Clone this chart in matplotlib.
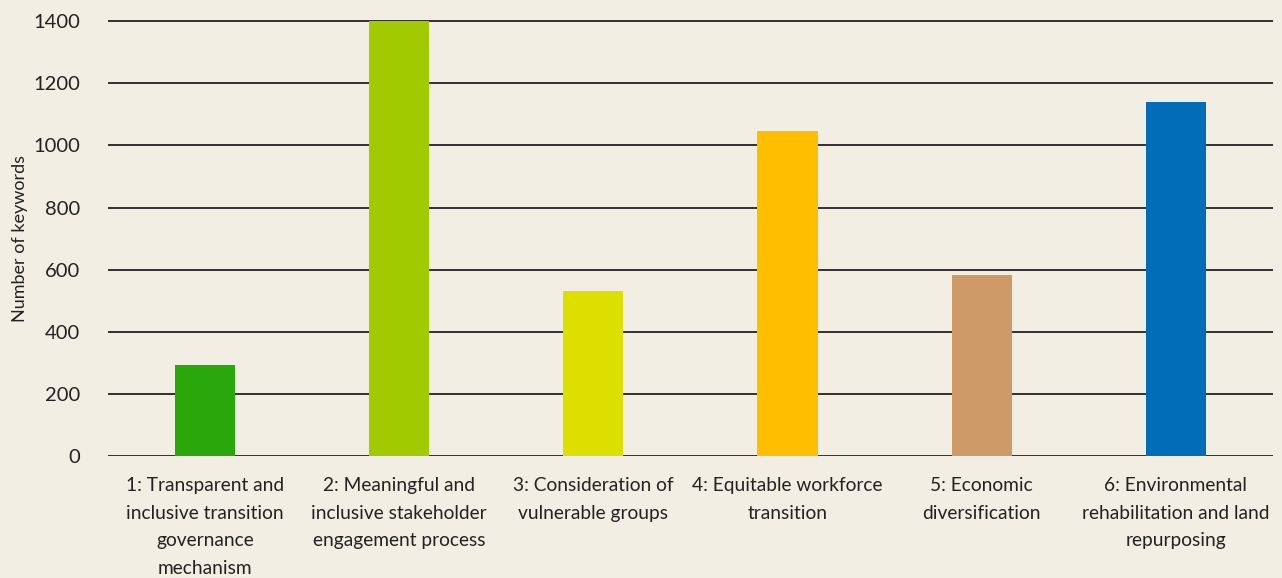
import matplotlib.pyplot as plt

categories = [
    "1: Transparent and\ninclusive transition\ngovernance\nmechanism",
    "2: Meaningful and\ninclusive stakeholder\nengagement process",
    "3: Consideration of\nvulnerable groups",
    "4: Equitable workforce\ntransition",
    "5: Economic\ndiversification",
    "6: Environmental\nrehabilitation and land\nrepurposing",
]
values = [294, 1402, 530, 1047, 583, 1140]
colors = ["#2AA70A", "#A2CA00", "#DCDF00", "#FFBF00", "#CE9A67", "#016DB9"]
yticks = [0, 200, 400, 600, 800, 1000, 1200, 1400]

bg = "#F3EEE3"
plt.rcParams['font.family'] = ['Lato', 'DejaVu Sans']

fig = plt.figure(figsize=(12.82, 5.78), dpi=100, facecolor=bg)
ax = fig.add_axes([0.0842, 0.211, 0.9088, 0.754])
ax.set_facecolor(bg)

x = range(len(categories))
for yv in yticks:
    ax.axhline(yv, color="#222222", linewidth=1.3, zorder=1)
ax.bar(x, values, width=0.31, color=colors, zorder=2)

ax.set_xlim(-0.5, 5.5)
ax.set_ylim(0, 1403)
ax.set_yticks(yticks)
ax.set_yticklabels([str(v) for v in yticks], fontsize=14.5, color="#222222")
ax.set_xticks(list(x))
ax.set_xticklabels(categories, fontsize=13.8, color="#222222", linespacing=1.76,
                   va="top")
ax.tick_params(axis="y", length=0, pad=20)
ax.tick_params(axis="x", length=0, pad=15)
for s in ax.spines.values():
    s.set_visible(False)

ax.set_ylabel("Number of keywords", fontsize=13, color="#222222")
ax.yaxis.set_label_coords(-0.069, 0.5)

fig.savefig("out.png", dpi=100, facecolor=bg)
